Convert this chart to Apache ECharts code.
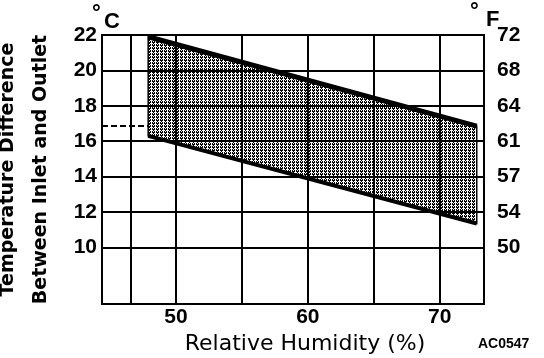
<!DOCTYPE html>
<html><head><meta charset="utf-8">
<script src="https://cdn.jsdelivr.net/npm/echarts@6/dist/echarts.min.js"></script>
<style>html,body{margin:0;padding:0;background:#fff}#c{width:544px;height:358px}</style>
</head><body><div id="c"></div>
<script>
// Data
const bandHumidity = [47.9, 72.8];      // % RH at band ends
const bandUpperC = [21.9, 16.85];       // upper limit, degC
const bandLowerC = [16.3, 11.35];       // lower limit, degC
const xLabelValues = [50, 60, 70];
const xGridValues = [46.6, 50, 55, 60, 65, 70];
const yTickValues = [10, 12, 14, 16, 18, 20, 22];
const yTickLabelsF = ['50', '54', '57', '61', '64', '68', '72'];
const dashRefX = [44.4, 47.9];
const dashRefY = 16.9;
const xRange = [44.4, 73.35];
const yRange = [6.8, 22];

// hatch pattern
const pc = document.createElement('canvas');
pc.width = 4; pc.height = 3;
const px = pc.getContext('2d');
px.fillStyle = '#fff'; px.fillRect(0, 0, 4, 3);
px.fillStyle = '#000';
px.fillRect(0, 0, 3, 1);
px.fillRect(1, 1, 1, 1);
px.fillRect(0, 2, 1, 1); px.fillRect(2, 2, 1, 1);

const chart = echarts.init(document.getElementById('c'), null, {renderer: 'canvas'});
const lbl = {fontFamily: 'Liberation Sans', fontWeight: 'bold', fontSize: 21, color: '#000'};

const upperPts = bandHumidity.map((h, i) => [h, bandUpperC[i]]);
const lowerPts = bandHumidity.map((h, i) => [h, bandLowerC[i]]);

chart.setOption({
  animation: false,
  grid: {left: 102, right: 60, top: 35, bottom: 54, outerBoundsMode: 'none', containLabel: false,
    show: true, borderColor: '#000', borderWidth: 2, backgroundColor: 'transparent'},
  xAxis: {
    type: 'value', min: xRange[0], max: xRange[1],
    axisLine: {show: false}, axisTick: {show: false}, splitLine: {show: false},
    axisLabel: Object.assign({customValues: xLabelValues, margin: 3}, lbl),
    name: 'Relative Humidity (%)', nameLocation: 'middle', nameGap: 25,
    nameTextStyle: {fontFamily: 'DejaVu Sans', fontSize: 22, color: '#000', padding: [0, 0, 0, 24]}
  },
  yAxis: [{
    type: 'value', min: yRange[0], max: yRange[1],
    axisLine: {show: false}, axisTick: {show: false}, splitLine: {show: false},
    axisLabel: Object.assign({customValues: yTickValues, margin: 5}, lbl),
    name: 'Temperature Difference\nBetween Inlet and Outlet', nameLocation: 'middle', nameGap: 44, nameRotate: 90,
    nameTextStyle: {fontFamily: 'DejaVu Sans', fontWeight: 'bold', fontSize: 19, lineHeight: 33, color: '#000'}
  }, {
    type: 'value', min: yRange[0], max: yRange[1], position: 'right',
    axisLine: {show: false}, axisTick: {show: false}, splitLine: {show: false},
    axisLabel: Object.assign({customValues: yTickValues, margin: 13,
      formatter: v => yTickLabelsF[yTickValues.indexOf(Math.round(v))]}, lbl)
  }],
  series: [{
    type: 'custom',
    data: [[0]],
    silent: true,
    renderItem: (params, api) => {
      const pts = upperPts.map(p => api.coord(p)).concat(lowerPts.slice().reverse().map(p => api.coord(p)));
      return {type: 'polygon', shape: {points: pts},
        style: {fill: {image: pc, repeat: 'repeat'}, stroke: '#000', lineWidth: 1.5}};
    },
    z: 3,
    markLine: {
      silent: true, symbol: 'none', label: {show: false},
      lineStyle: {color: '#000', width: 2, type: 'solid'},
      data: xGridValues.map(v => ({xAxis: v})).concat(yTickValues.map(v => ({yAxis: v}))).concat([
        [{coord: [dashRefX[0], dashRefY], lineStyle: {type: [6, 3], width: 2, color: '#000'}},
         {coord: [dashRefX[1], dashRefY]}]
      ])
    }
  }, {
    type: 'line', data: upperPts, symbol: 'none', z: 5,
    lineStyle: {color: '#000', width: 5}
  }, {
    type: 'line', data: lowerPts, symbol: 'none', z: 5,
    lineStyle: {color: '#000', width: 4}
  }],
  graphic: [
    {type: 'text', left: 92, top: 3, style: {text: '°', font: 'bold 22px Liberation Sans', fill: '#000'}},
    {type: 'text', left: 104, top: 11, style: {text: 'C', font: 'bold 22px Liberation Sans', fill: '#000'}},
    {type: 'text', left: 470, top: 1, style: {text: '°', font: 'bold 22px Liberation Sans', fill: '#000'}},
    {type: 'text', left: 486, top: 9, style: {text: 'F', font: 'bold 22px Liberation Sans', fill: '#000'}},
    {type: 'text', left: 478, top: 337, style: {text: 'AC0547', font: 'bold 14px Liberation Sans', fill: '#000'}}
  ]
});
</script></body></html>
